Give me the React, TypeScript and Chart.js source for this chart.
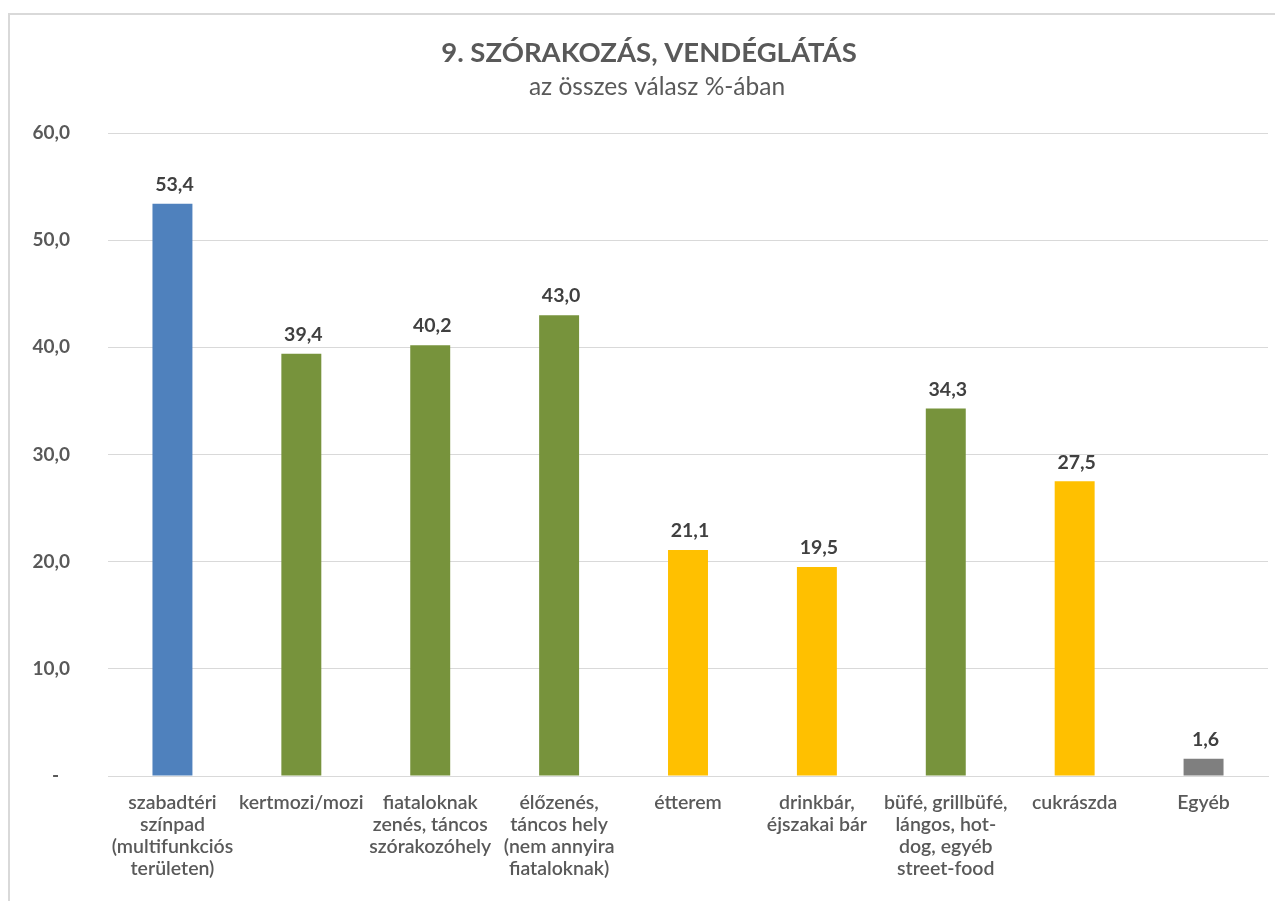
import React, { useEffect, useRef } from "react";
import { Chart, registerables } from "chart.js";

Chart.register(...registerables);

const categories: string[][] = [
  ["szabadtéri", "színpad", "(multifunkciós", "területen)"],
  ["kertmozi/mozi"],
  ["fiataloknak", "zenés, táncos", "szórakozóhely"],
  ["élőzenés,", "táncos hely", "(nem annyira", "fiataloknak)"],
  ["étterem"],
  ["drinkbár,", "éjszakai bár"],
  ["büfé, grillbüfé,", "lángos, hot-", "dog, egyéb", "street-food"],
  ["cukrászda"],
  ["Egyéb"],
];
const values: number[] = [53.4, 39.4, 40.2, 43.0, 21.1, 19.5, 34.3, 27.5, 1.6];
const barColors: string[] = [
  "#4F81BD", "#77933C", "#77933C", "#77933C", "#FFC000",
  "#FFC000", "#77933C", "#FFC000", "#7F7F7F",
];
const titleText = "9. SZÓRAKOZÁS, VENDÉGLÁTÁS";
const subtitleText = "az összes válasz %-ában";
const yMin = 0;
const yMax = 60;
const yStep = 10;

const FONT = "Lato, Carlito, Calibri, sans-serif";
const fmt = (v: number) => v.toFixed(1).replace(".", ",");
const fmtTick = (v: number) => (v === 0 ? "-\u2007" : fmt(v));

const titlePlugin = {
  id: "titles",
  afterDraw(chart: any) {
    const ctx = chart.ctx;
    ctx.save();
    ctx.textAlign = "center";
    ctx.textBaseline = "middle";
    ctx.fillStyle = "#595959";
    ctx.font = `bold 27.5px ${FONT}`;
    ctx.fillText(titleText, 639, 38);
    ctx.font = `24.5px ${FONT}`;
    ctx.fillText(subtitleText, 647, 72);
    ctx.restore();
  },
};

const labelPlugin = {
  id: "barLabels",
  afterDatasetsDraw(chart: any) {
    const ctx = chart.ctx;
    const meta = chart.getDatasetMeta(0);
    ctx.save();
    ctx.textAlign = "center";
    ctx.textBaseline = "middle";
    ctx.fillStyle = "#404040";
    ctx.font = `bold 19.5px ${FONT}`;
    meta.data.forEach((bar: any, i: number) => {
      ctx.fillText(fmt(values[i]), bar.x + 2, bar.y - 19);
    });
    ctx.restore();
  },
};

export default function App() {
  const ref = useRef<HTMLCanvasElement>(null);
  useEffect(() => {
    document.documentElement.style.overflow = "hidden";
    if (!ref.current) return;
    const chart = new Chart(ref.current, {
      type: "bar",
      data: {
        labels: categories,
        datasets: [
          {
            data: values,
            backgroundColor: barColors,
            barPercentage: 0.31,
            categoryPercentage: 1,
          },
        ],
      },
      options: {
        animation: false,
        responsive: false,
        maintainAspectRatio: false,
        layout: { padding: { left: 0, right: 7, top: 118, bottom: 0 } },
        plugins: {
          legend: { display: false },
          tooltip: { enabled: false },
          title: { display: false },
        },
        scales: {
          x: {
            grid: { display: false, drawTicks: false },
            border: { display: true, color: "#d9d9d9", width: 1 },
            ticks: {
              color: "#595959",
              font: { family: FONT, size: 19.5, weight: "600", lineHeight: "22px" },
              padding: 16,
              maxRotation: 0,
              minRotation: 0,
              autoSkip: false,
            },
            afterFit: (s: any) => {
              s.height = 126;
            },
          },
          y: {
            min: yMin,
            max: yMax,
            grid: { color: "#d9d9d9", drawTicks: false, lineWidth: 1 },
            border: { display: false },
            ticks: {
              stepSize: yStep,
              color: "#595959",
              font: { family: FONT, size: 19, weight: "bold" },
              padding: 38,
              crossAlign: "near",
              callback: (v: any) => fmtTick(Number(v)),
            },
            afterFit: (s: any) => {
              s.width = 98;
            },
          },
        },
      },
      plugins: [titlePlugin, labelPlugin],
    });
    return () => chart.destroy();
  }, []);
  return (
    <div style={{ paddingTop: 5 }}>
      <div
        style={{
          width: 1267,
          height: 890,
          borderTop: "2px solid #d9d9d9",
          borderLeft: "2px solid #d9d9d9",
          boxSizing: "border-box",
          background: "#fff",
        }}
      >
        <canvas ref={ref} width={1265} height={887} style={{ display: "block" }} />
      </div>
    </div>
  );
}
